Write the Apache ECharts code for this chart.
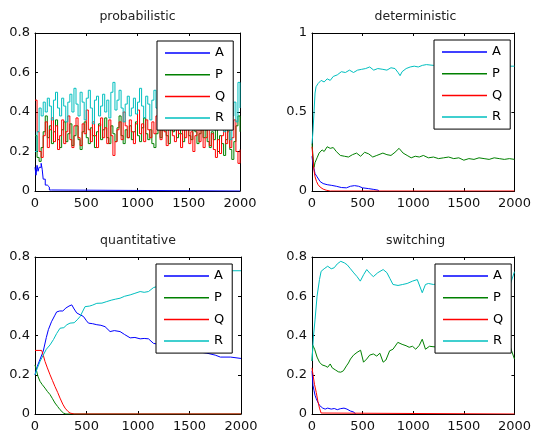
<!DOCTYPE html>
<html>
<head>
<meta charset="utf-8">
<script src="https://cdn.jsdelivr.net/npm/echarts@6/dist/echarts.min.js"></script>
<style>html,body{margin:0;padding:0;background:#fff;}#c{width:534px;height:437px;}</style>
</head>
<body>
<div id="c"></div>
<script>
const names = ['A','P','Q','R'];
const colors = ['#0000ff','#008000','#ff0000','#00bfbf'];
const titles = ['probabilistic','deterministic','quantitative','switching'];
const xTicks = [0,500,1000,1500,2000];
const yTicksSmall = [0,0.2,0.4,0.6,0.8];
const yTicksDet = [0,0.5,1];

// probabilistic panel: sampled every 20 steps
const stepsProb = [0,20,40,60,80,100,120,140,160,180,200,220,240,260,280,300,320,340,360,380,400,420,440,460,480,500,520,540,560,580,600,620,640,660,680,700,720,740,760,780,800,820,840,860,880,900,920,940,960,980,1000,1020,1040,1060,1080,1100,1120,1140,1160,1180,1200,1220,1240,1260,1280,1300,1320,1340,1360,1380,1400,1420,1440,1460,1480,1500,1520,1540,1560,1580,1600,1620,1640,1660,1680,1700,1720,1740,1760,1780,1800,1820,1840,1860,1880,1900,1920,1940,1960,1980,2000];
const aProb = [[0,0.12],[10,0.08],[20,0.13],[30,0.10],[40,0.12],[60,0.14],[70,0.11],[80,0.06],[100,0.03],[120,0.02],[140,0.005],[160,0],[2000,0]];
const pProb = [0.28,0.17,0.15,0.22,0.30,0.38,0.27,0.33,0.24,0.30,
0.36,0.26,0.22,0.31,0.35,0.25,0.29,0.34,0.23,0.28,
0.33,0.26,0.21,0.30,0.35,0.27,0.24,0.32,0.28,0.22,
0.30,0.34,0.26,0.31,0.37,0.27,0.24,0.33,0.29,0.25,
0.32,0.38,0.28,0.24,0.31,0.27,0.33,0.26,0.30,0.35,
0.28,0.25,0.32,0.37,0.29,0.26,0.31,0.24,0.22,0.29,
0.34,0.27,0.31,0.36,0.28,0.24,0.32,0.30,0.35,0.27,
0.33,0.29,0.25,0.31,0.36,0.28,0.26,0.33,0.30,0.24,
0.29,0.35,0.27,0.31,0.25,0.22,0.30,0.26,0.33,0.20,
0.28,0.24,0.18,0.26,0.31,0.21,0.16,0.25,0.33,0.38,
0.30];
const qProb = [0.46,0.30,0.20,0.17,0.28,0.35,0.22,0.31,0.37,0.25,
0.33,0.21,0.28,0.36,0.24,0.30,0.38,0.26,0.22,0.33,
0.37,0.27,0.23,0.34,0.29,0.41,0.31,0.25,0.35,0.28,
0.22,0.33,0.37,0.27,0.32,0.24,0.36,0.28,0.18,0.25,
0.31,0.35,0.26,0.40,0.33,0.27,0.36,0.30,0.24,0.34,
0.41,0.29,0.34,0.25,0.36,0.31,0.27,0.35,0.29,0.38,
0.32,0.26,0.36,0.30,0.23,0.33,0.37,0.28,0.25,0.34,
0.29,0.22,0.31,0.27,0.35,0.24,0.30,0.20,0.28,0.33,
0.25,0.31,0.22,0.27,0.34,0.23,0.29,0.21,0.17,0.26,
0.19,0.28,0.35,0.24,0.30,0.22,0.27,0.36,0.20,0.14,
0.21];
const rProb = [0.20,0.30,0.42,0.38,0.45,0.40,0.47,0.43,0.36,0.46,
0.50,0.42,0.38,0.47,0.43,0.35,0.45,0.49,0.40,0.52,
0.44,0.38,0.50,0.45,0.36,0.47,0.51,0.42,0.34,0.46,
0.48,0.38,0.43,0.49,0.40,0.46,0.37,0.50,0.55,0.41,
0.46,0.51,0.42,0.35,0.44,0.48,0.38,0.42,0.47,0.39,
0.45,0.52,0.43,0.37,0.48,0.44,0.36,0.46,0.51,0.42,
0.47,0.40,0.45,0.38,0.48,0.43,0.36,0.46,0.41,0.49,
0.39,0.44,0.37,0.47,0.42,0.35,0.45,0.40,0.48,0.38,
0.43,0.36,0.46,0.41,0.34,0.44,0.39,0.31,0.42,0.36,
0.45,0.38,0.30,0.41,0.34,0.26,0.38,0.45,0.35,0.55,
0.42];

// deterministic panel
const aDet = [[0,0.22],[10,0.17],[20,0.14],[30,0.11],[50,0.09],[80,0.06],[110,0.047],[150,0.04],[190,0.036],[240,0.03],[290,0.022],[340,0.02],[380,0.03],[420,0.034],[460,0.03],[500,0.02],[560,0.015],[610,0.01],[655,0.005],[660,0]];
const pDet = [[0,0.30],[10,0.22],[20,0.15],[30,0.18],[50,0.21],[70,0.24],[100,0.26],[120,0.25],[150,0.28],[180,0.27],[210,0.275],[240,0.25],[280,0.225],[320,0.22],[360,0.215],[400,0.23],[440,0.24],[480,0.22],[520,0.245],[560,0.235],[600,0.215],[640,0.225],[700,0.24],[740,0.23],[780,0.225],[820,0.245],[860,0.27],[900,0.24],[940,0.225],[980,0.21],[1020,0.22],[1060,0.215],[1100,0.225],[1150,0.21],[1200,0.215],[1250,0.205],[1300,0.21],[1350,0.215],[1400,0.205],[1450,0.21],[1500,0.195],[1550,0.205],[1600,0.2],[1650,0.21],[1700,0.205],[1750,0.2],[1800,0.21],[1850,0.205],[1900,0.2],[1950,0.205],[2000,0.2]];
const qDet = [[0,0.28],[10,0.2],[20,0.13],[30,0.09],[45,0.06],[60,0.04],[80,0.025],[110,0.012],[140,0.005],[180,0],[2000,0]];
const rDet = [[0,0.3],[10,0.38],[20,0.5],[30,0.62],[40,0.66],[60,0.68],[90,0.70],[120,0.69],[150,0.71],[180,0.70],[210,0.725],[250,0.735],[290,0.755],[330,0.75],[370,0.765],[410,0.75],[450,0.765],[490,0.77],[530,0.775],[570,0.785],[610,0.765],[650,0.775],[700,0.77],[740,0.765],[780,0.78],[820,0.775],[850,0.75],[870,0.73],[890,0.755],[930,0.775],[970,0.785],[1010,0.79],[1050,0.785],[1090,0.795],[1130,0.8],[1200,0.795],[1300,0.8],[1400,0.79],[1500,0.795],[1600,0.8],[1700,0.795],[1800,0.8],[1900,0.79],[2000,0.79]];

// quantitative panel
const aQuant = [[0,0.2],[20,0.24],[50,0.28],[80,0.32],[110,0.39],[130,0.43],[160,0.47],[190,0.50],[210,0.52],[240,0.525],[270,0.525],[300,0.54],[330,0.55],[357,0.556],[380,0.535],[405,0.515],[440,0.505],[470,0.497],[500,0.475],[519,0.463],[560,0.46],[600,0.455],[640,0.452],[680,0.445],[729,0.42],[770,0.425],[826,0.42],[870,0.405],[924,0.388],[970,0.39],[1021,0.383],[1060,0.385],[1102,0.383],[1150,0.36],[1250,0.35],[1350,0.34],[1450,0.33],[1550,0.32],[1669,0.31],[1750,0.3],[1800,0.29],[1900,0.29],[2000,0.283]];
const pQuant = [[0,0.25],[15,0.22],[30,0.19],[49,0.166],[70,0.15],[97,0.132],[120,0.115],[146,0.099],[170,0.078],[194,0.056],[220,0.038],[243,0.022],[260,0.012],[276,0.005],[300,0],[2000,0]];
const qQuant = [[0,0.324],[65,0.324],[80,0.30],[97,0.268],[120,0.235],[146,0.2],[170,0.17],[194,0.14],[220,0.11],[243,0.081],[270,0.05],[292,0.03],[320,0.013],[340,0.005],[380,0],[2000,0]];
const rQuant = [[0,0.2],[20,0.23],[49,0.268],[80,0.30],[110,0.33],[146,0.352],[180,0.38],[210,0.41],[243,0.437],[280,0.44],[310,0.455],[340,0.463],[380,0.465],[410,0.48],[438,0.497],[460,0.52],[486,0.547],[530,0.55],[560,0.555],[600,0.564],[650,0.565],[697,0.573],[740,0.58],[780,0.585],[826,0.59],[870,0.6],[924,0.607],[970,0.615],[1021,0.624],[1060,0.62],[1102,0.624],[1150,0.644],[1250,0.66],[1350,0.675],[1450,0.69],[1550,0.7],[1650,0.71],[1750,0.715],[1850,0.725],[1920,0.73],[2000,0.73]];

// switching panel
const aSw = [[0,0.22],[10,0.145],[20,0.12],[30,0.095],[42,0.078],[58,0.06],[74,0.044],[90,0.035],[106,0.03],[130,0.025],[155,0.03],[190,0.025],[220,0.028],[250,0.022],[280,0.027],[316,0.03],[332,0.04],[345,0.025],[380,0.015],[413,0.01],[430,0]];
const pSw = [[0,0.27],[8,0.35],[15,0.36],[26,0.33],[50,0.29],[74,0.264],[100,0.25],[130,0.245],[155,0.238],[180,0.255],[200,0.235],[230,0.225],[260,0.215],[284,0.213],[310,0.22],[340,0.245],[360,0.26],[380,0.28],[410,0.30],[445,0.314],[480,0.325],[509,0.264],[540,0.28],[570,0.3],[606,0.306],[640,0.295],[670,0.31],[703,0.264],[730,0.275],[767,0.322],[800,0.33],[848,0.365],[890,0.355],[929,0.348],[960,0.34],[993,0.345],[1025,0.33],[1060,0.35],[1089,0.381],[1121,0.33],[1160,0.345],[1250,0.34],[1400,0.345],[1600,0.35],[1800,0.355],[1930,0.36],[1960,0.34],[2000,0.28]];
const qSw = [[0,0.235],[10,0.2],[25,0.15],[42,0.11],[58,0.065],[74,0.03],[90,0.005],[100,0],[2000,0]];
const rSw = [[0,0.27],[15,0.40],[30,0.48],[50,0.6],[74,0.685],[90,0.727],[120,0.74],[155,0.753],[190,0.74],[219,0.745],[250,0.765],[284,0.778],[320,0.77],[348,0.76],[380,0.74],[413,0.719],[445,0.70],[477,0.677],[510,0.71],[541,0.736],[575,0.715],[606,0.70],[650,0.72],[703,0.736],[740,0.72],[770,0.69],[800,0.66],[850,0.655],[896,0.66],[940,0.665],[993,0.677],[1040,0.685],[1089,0.618],[1121,0.66],[1150,0.665],[1200,0.66],[1300,0.67],[1400,0.66],[1500,0.665],[1600,0.66],[1700,0.665],[1800,0.66],[1900,0.665],[1955,0.655],[2000,0.725]];

function zipSteps(xs, ys){ return xs.map((x,i)=>[x, ys[i]]); }

const panelData = [
  [aProb, zipSteps(stepsProb,pProb), zipSteps(stepsProb,qProb), zipSteps(stepsProb,rProb)],
  [aDet, pDet, qDet, rDet],
  [aQuant, pQuant, qQuant, rQuant],
  [aSw, pSw, qSw, rSw]
];
const yTickSets = [yTicksSmall, yTicksDet, yTicksSmall, yTicksSmall];

const layout = [
  {grid:{left:35,top:33,width:205,height:158}, legend:{left:157,top:41}, title:{left:137.5,top:10}},
  {grid:{left:312,top:33,width:207,height:158}, legend:{left:434,top:40}, title:{left:415.5,top:10}},
  {grid:{left:35,top:257,width:206,height:157}, legend:{left:156,top:264}, title:{left:138,top:234}},
  {grid:{left:312,top:257,width:207,height:157}, legend:{left:435,top:264}, title:{left:415.5,top:234}}
];

const FONT = 'DejaVu Sans';
const option = {animation:false, backgroundColor:'#fff', grid:[], xAxis:[], yAxis:[], series:[], legend:[], title:[]};

layout.forEach((L, g) => {
  option.grid.push(Object.assign({containLabel:false}, L.grid));
  const yt = yTickSets[g];
  const yMin = yt[0], yMax = yt[yt.length-1], yInt = yt[1]-yt[0];
  const xMin = xTicks[0], xMax = xTicks[xTicks.length-1], xInt = xTicks[1]-xTicks[0];
  const lineCfg = {show:true, onZero:false, lineStyle:{color:'#000', width:1}};
  const tickCfg = {show:true, inside:true, length:3, lineStyle:{color:'#000', width:1}};
  const lbl = {color:'#111', fontFamily:FONT, fontSize:13, formatter: v => String(v)};
  option.xAxis.push({gridIndex:g, type:'value', position:'bottom', min:xMin, max:xMax, interval:xInt,
    axisLine:lineCfg, axisTick:tickCfg, splitLine:{show:false},
    axisLabel:Object.assign({margin:6, showMinLabel:true, showMaxLabel:true}, lbl)});
  option.xAxis.push({gridIndex:g, type:'value', position:'top', min:xMin, max:xMax, interval:xInt,
    axisLine:lineCfg, axisTick:tickCfg, splitLine:{show:false}, axisLabel:{show:false}});
  option.yAxis.push({gridIndex:g, type:'value', position:'left', min:yMin, max:yMax, interval:yInt,
    axisLine:lineCfg, axisTick:tickCfg, splitLine:{show:false},
    axisLabel:Object.assign({margin:5}, lbl)});
  option.yAxis.push({gridIndex:g, type:'value', position:'right', min:yMin, max:yMax, interval:yInt,
    axisLine:lineCfg, axisTick:tickCfg, splitLine:{show:false}, axisLabel:{show:false}});
  panelData[g].forEach((d, k) => {
    option.series.push({type:'line', name:names[k], xAxisIndex:2*g, yAxisIndex:2*g, data:d,
      symbol:'none', showSymbol:false, step: g===0 ? 'end' : false,
      lineStyle:{color:colors[k], width:1}, itemStyle:{color:colors[k]}, z:2+k*0.01});
  });
  option.legend.push({orient:'vertical', left:L.legend.left, top:L.legend.top, data:names,
    icon:'rect', itemWidth:45, itemHeight:1.5, itemGap:7.7, padding:[5,8,5,8],
    backgroundColor:'#fff', borderColor:'#000', borderWidth:1, borderRadius:0,
    selectedMode:false, z:10,
    textStyle:{fontFamily:FONT, fontSize:13, color:'#000', lineHeight:14}});
  option.title.push({text:titles[g], left:L.title.left, top:L.title.top, textAlign:'center', padding:0,
    textStyle:{fontFamily:FONT, fontSize:12.5, fontWeight:'normal', color:'#222'}});
});

const chart = echarts.init(document.getElementById('c'), null, {renderer:'canvas'});
chart.setOption(option);
</script>
</body>
</html>
